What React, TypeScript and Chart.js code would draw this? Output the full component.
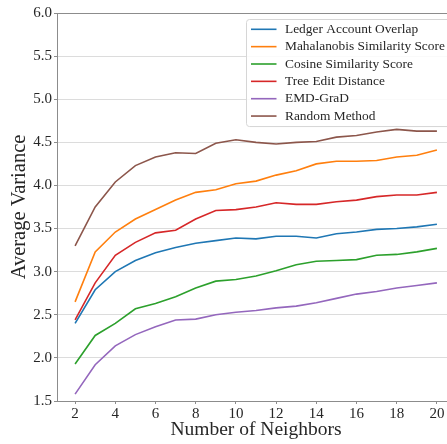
import React, { useEffect, useRef } from "react";
import { Chart, registerables } from "chart.js";

Chart.register(...registerables);

const neighbors = [2, 3, 4, 5, 6, 7, 8, 9, 10, 11, 12, 13, 14, 15, 16, 17, 18, 19, 20];
const ledgerOverlap = [2.40, 2.79, 3.00, 3.13, 3.22, 3.28, 3.33, 3.36, 3.39, 3.38, 3.41, 3.41, 3.39, 3.44, 3.46, 3.49, 3.50, 3.52, 3.55];
const mahalanobis = [2.65, 3.23, 3.46, 3.61, 3.72, 3.83, 3.92, 3.95, 4.02, 4.05, 4.12, 4.17, 4.25, 4.28, 4.28, 4.29, 4.33, 4.35, 4.41];
const cosine = [1.93, 2.26, 2.40, 2.57, 2.63, 2.71, 2.81, 2.89, 2.91, 2.95, 3.01, 3.08, 3.12, 3.13, 3.14, 3.19, 3.20, 3.23, 3.27];
const treeEdit = [2.44, 2.87, 3.19, 3.34, 3.45, 3.48, 3.61, 3.71, 3.72, 3.75, 3.80, 3.78, 3.78, 3.81, 3.83, 3.87, 3.89, 3.89, 3.92];
const emdGrad = [1.58, 1.92, 2.14, 2.27, 2.36, 2.44, 2.45, 2.50, 2.53, 2.55, 2.58, 2.60, 2.64, 2.69, 2.74, 2.77, 2.81, 2.84, 2.87];
const randomMethod = [3.30, 3.75, 4.04, 4.23, 4.33, 4.38, 4.37, 4.49, 4.53, 4.50, 4.48, 4.50, 4.51, 4.56, 4.58, 4.62, 4.65, 4.63, 4.63];

const seriesNames = [
  "Ledger Account Overlap",
  "Mahalanobis Similarity Score",
  "Cosine Similarity Score",
  "Tree Edit Distance",
  "EMD-GraD",
  "Random Method",
];
const seriesValues = [ledgerOverlap, mahalanobis, cosine, treeEdit, emdGrad, randomMethod];
const seriesColors = ["#1f77b4", "#ff7f0e", "#2ca02c", "#d62728", "#9467bd", "#8c564b"];

const xTicks = [2, 4, 6, 8, 10, 12, 14, 16, 18, 20];
const yTicks = [1.5, 2.0, 2.5, 3.0, 3.5, 4.0, 4.5, 5.0, 5.5, 6.0];

const SERIF = "'Liberation Serif', 'DejaVu Serif', serif";
const SPINE = "#8c8c8c";

const framePlugin = {
  id: "frame",
  afterDraw(chart: any) {
    const { ctx, chartArea } = chart;
    ctx.save();
    // top spine
    ctx.strokeStyle = SPINE;
    ctx.lineWidth = 1;
    ctx.beginPath();
    ctx.moveTo(chartArea.left, Math.round(chartArea.top) + 0.5);
    ctx.lineTo(chartArea.right, Math.round(chartArea.top) + 0.5);
    ctx.stroke();

    // legend
    const left = 246.5;
    const top = 19.5;
    const right = chartArea.right - 5;
    const rowH = 17.35;
    const firstRow = 29.3;
    const n = chart.data.datasets.length;
    const bottom = firstRow + rowH * (n - 1) + 10.5;
    const r = 3;
    ctx.beginPath();
    ctx.moveTo(left + r, top);
    ctx.lineTo(right - r, top);
    ctx.arcTo(right, top, right, top + r, r);
    ctx.lineTo(right, bottom - r);
    ctx.arcTo(right, bottom, right - r, bottom, r);
    ctx.lineTo(left + r, bottom);
    ctx.arcTo(left, bottom, left, bottom - r, r);
    ctx.lineTo(left, top + r);
    ctx.arcTo(left, top, left + r, top, r);
    ctx.closePath();
    ctx.fillStyle = "rgba(255,255,255,0.85)";
    ctx.fill();
    ctx.strokeStyle = "#d6d6d6";
    ctx.lineWidth = 1;
    ctx.stroke();

    ctx.font = `13.4px ${SERIF}`;
    ctx.textBaseline = "middle";
    ctx.textAlign = "left";
    chart.data.datasets.forEach((ds: any, i: number) => {
      const cy = firstRow + i * rowH;
      ctx.strokeStyle = ds.borderColor;
      ctx.lineWidth = 1.6;
      ctx.beginPath();
      ctx.moveTo(251, cy);
      ctx.lineTo(276.5, cy);
      ctx.stroke();
      ctx.fillStyle = "#262626";
      ctx.fillText(ds.label, 285, cy);
    });
    ctx.restore();
  },
};

export default function App() {
  const canvasRef = useRef<HTMLCanvasElement | null>(null);

  useEffect(() => {
    document.body.style.margin = "0";
    document.documentElement.style.overflow = "hidden";
    const canvas = canvasRef.current;
    if (!canvas) return;
    const datasets = seriesNames.map((name, i) => ({
      label: name,
      data: neighbors.map((x, j) => ({ x, y: seriesValues[i][j] })),
      borderColor: seriesColors[i],
      backgroundColor: seriesColors[i],
      borderWidth: 1.6,
      pointRadius: 0,
      tension: 0,
      fill: false,
    }));

    const chart = new Chart(canvas, {
      type: "line",
      data: { datasets },
      plugins: [framePlugin],
      options: {
        animation: false,
        responsive: false,
        devicePixelRatio: 1,
        layout: { padding: { top: 13, right: 0, left: 0, bottom: 0 } },
        plugins: { legend: { display: false }, tooltip: { enabled: false } },
        scales: {
          x: {
            type: "linear",
            min: 1.1,
            max: 20.9,
            afterBuildTicks: (scale: any) => {
              scale.ticks = xTicks.map((v) => ({ value: v }));
            },
            afterFit: (scale: any) => {
              scale.height = 43;
            },
            grid: {
              display: true,
              drawOnChartArea: false,
              drawTicks: true,
              tickLength: 3,
              tickColor: SPINE,
              tickWidth: 1,
            },
            border: { display: true, color: SPINE, width: 1 },
            ticks: {
              padding: 1,
              color: "#262626",
              font: { family: SERIF, size: 15 },
              maxRotation: 0,
              autoSkip: false,
            },
            title: {
              display: true,
              text: "Number of Neighbors",
              color: "#262626",
              font: { family: SERIF, size: 19.5 },
              padding: { top: 0, bottom: 2 },
            },
          },
          y: {
            type: "linear",
            min: 1.5,
            max: 6.0,
            afterBuildTicks: (scale: any) => {
              scale.ticks = yTicks.map((v) => ({ value: v }));
            },
            afterFit: (scale: any) => {
              scale.width = 57;
            },
            grid: {
              display: true,
              color: "#dcdcdc",
              lineWidth: 1,
              drawTicks: true,
              tickLength: 3,
              tickColor: SPINE,
              tickWidth: 1,
            },
            border: { display: true, color: SPINE, width: 1 },
            ticks: {
              padding: 2,
              color: "#262626",
              font: { family: SERIF, size: 15 },
              callback: (v: any) => Number(v).toFixed(1),
            },
            title: {
              display: true,
              text: "Average Variance",
              color: "#262626",
              font: { family: SERIF, size: 20.5 },
              padding: { top: 7, bottom: 0 },
            },
          },
        },
      },
    } as any);
    return () => chart.destroy();
  }, []);

  return (
    <div style={{ width: 447, height: 444, overflow: "hidden" }}>
      <canvas ref={canvasRef} width={455} height={444} style={{ width: 455, height: 444, display: "block" }} />
    </div>
  );
}
